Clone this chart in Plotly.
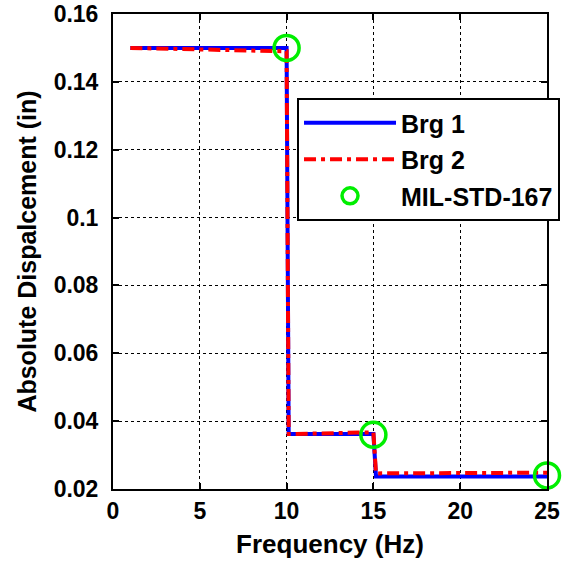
"""
plot.py

Absolute displacement vs frequency for two bearings against MIL-STD-167
"""
import plotly.graph_objects as go

# Brg 1 (solid blue)
brg1_freq = [1, 10, 10.12, 15, 15.15, 25]
brg1_disp = [0.150, 0.150, 0.0362, 0.0362, 0.0237, 0.0237]

# Brg 2 (dash-dot red)
brg2_freq = [1, 5, 10, 10.12, 15, 15.15, 25]
brg2_disp = [0.150, 0.1495, 0.1490, 0.0362, 0.0367, 0.0246, 0.0248]

# MIL-STD-167 limits (open green circles)
mil_freq = [10, 15, 25]
mil_disp = [0.150, 0.036, 0.024]

x_ticks = [0, 5, 10, 15, 20, 25]
y_ticks = [0.02, 0.04, 0.06, 0.08, 0.1, 0.12, 0.14, 0.16]
y_labels = ["0.02", "0.04", "0.06", "0.08", "0.1", "0.12", "0.14", "0.16"]

FONT = "Liberation Sans, Arial, sans-serif"


def make_figure():
    fig = go.Figure()
    fig.add_trace(go.Scatter(
        x=brg1_freq, y=brg1_disp, mode="lines", name="Brg 1",
        legendgroup="a", line=dict(color="#0000ff", width=4)
    ))
    fig.add_trace(go.Scatter(
        x=brg2_freq, y=brg2_disp, mode="lines", name="Brg 2",
        legendgroup="b",
        line=dict(color="#ff0000", width=4, dash="12px,5px,4px,5px")
    ))
    fig.add_trace(go.Scatter(
        x=mil_freq, y=mil_disp, mode="markers", name="MIL-STD-167",
        legendgroup="c", cliponaxis=False,
        marker=dict(symbol="circle-open", size=25, color="#00ee00",
                    line=dict(width=3.5, color="#00ee00"))
    ))

    axis_common = dict(
        showline=True, linecolor="black", linewidth=2, mirror="ticks",
        ticks="inside", ticklen=6, tickwidth=1.5, tickcolor="black",
        showgrid=True, gridcolor="black", gridwidth=1, griddash="dot",
        zeroline=False, ticklabeloverflow="allow",
        tickfont=dict(family=FONT, size=23, color="black", weight="bold"),
    )
    fig.update_xaxes(
        range=[0, 25], tickvals=x_ticks, title_text="Frequency (Hz)",
        title_standoff=12,
        title_font=dict(family=FONT, size=26, color="black", weight="bold"),
        **axis_common
    )
    fig.update_yaxes(
        range=[0.02, 0.16], tickvals=y_ticks, ticktext=y_labels,
        ticklabelstandoff=8,
        title_text="Absolute Dispalcement (in)", title_standoff=10,
        title_font=dict(family=FONT, size=25, color="black", weight="bold"),
        **axis_common
    )

    fig.update_layout(
        width=571, height=563,
        margin=dict(l=113, r=24, t=14, b=74, autoexpand=False),
        plot_bgcolor="white", paper_bgcolor="white",
        legend=dict(
            x=0.424, y=0.823, xanchor="left", yanchor="top",
            bgcolor="white", bordercolor="black", borderwidth=2,
            tracegroupgap=1, traceorder="grouped", itemwidth=92,
            font=dict(family=FONT, size=25, color="black", weight="bold"),
        ),
    )
    return fig


if __name__ == '__main__':
    fig = make_figure()
    # drop the default body margin so the figure sits at the page corner
    fig.write_html("out.html", config={"displayModeBar": False},
                   post_script="document.body.style.margin='0';")
